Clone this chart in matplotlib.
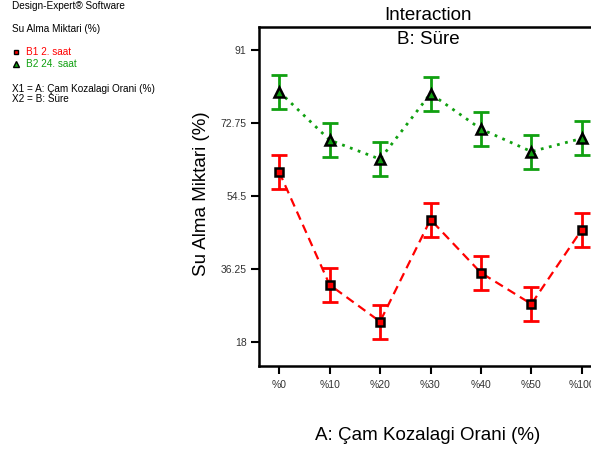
import numpy as np
import matplotlib
matplotlib.use('Agg')
import matplotlib.pyplot as plt
from matplotlib.lines import Line2D

plt.rcParams['font.family'] = ['Liberation Sans', 'DejaVu Sans']

categories = ['%0', '%10', '%20', '%30', '%40', '%50', '%100']
b1_values = [60.5, 32.3, 23.1, 48.6, 35.3, 27.5, 46.1]
b2_values = [80.6, 68.5, 63.7, 80.1, 71.25, 65.6, 68.9]
b1_err = [4.25, 4.25, 4.25, 4.25, 4.25, 4.25, 4.25]
b2_err = [4.25, 4.25, 4.25, 4.25, 4.25, 4.25, 4.25]
yticks = [18, 36.25, 54.5, 72.75, 91]
ytick_labels = ['18', '36.25', '54.5', '72.75', '91']

red = '#ff0000'
green = '#10a010'

fig = plt.figure(figsize=(5.91, 4.5), dpi=100)
# axes runs past the right edge of the figure, like the original export
ax = fig.add_axes([259 / 591, 1 - 366 / 450, 343 / 591, 339 / 450])

x = np.arange(len(categories))

ax.errorbar(x, b1_values, yerr=b1_err, fmt='none', ecolor=red,
            elinewidth=2, capsize=5.5, capthick=2, zorder=2)
ax.errorbar(x, b2_values, yerr=b2_err, fmt='none', ecolor=green,
            elinewidth=2, capsize=5.5, capthick=2, zorder=2)
ax.plot(x, b1_values, color=red, linestyle=(0, (4, 2.5)), lw=1.6, zorder=3)
ax.plot(x, b2_values, color=green, linestyle=(0, (1, 2)), lw=2, zorder=3)
ax.plot(x, b1_values, linestyle='none', marker='s', markersize=5.5,
        markerfacecolor=red, markeredgecolor='black', markeredgewidth=1.8, zorder=4)
ax.plot(x, b2_values, linestyle='none', marker='^', markersize=6.5,
        markerfacecolor=green, markeredgecolor='black', markeredgewidth=1.8, zorder=4)

ax.set_xlim(-0.4, len(categories) - 0.6)
ax.set_ylim(12, 96.75)
ax.set_xticks(x)
ax.set_xticklabels(categories, fontsize=7.5, color='#333333')
ax.set_yticks(yticks)
ax.set_yticklabels(ytick_labels, fontsize=7.5, color='#333333')
ax.tick_params(direction='out', length=6, width=1.5, pad=3)
ax.tick_params(axis='x', pad=4)
for s in ax.spines.values():
    s.set_linewidth(1.8)

cx = (259 + 598) / 2 / 591
fs_big = 13.5
fig.text(cx, 1 - 15 / 450, 'Interaction', ha='center', va='center', fontsize=fs_big)
fig.text(cx, 1 - 39 / 450, 'B: Süre', ha='center', va='center', fontsize=fs_big)
fig.text(202 / 591, 1 - 194 / 450, 'Su Alma Miktari (%)', rotation=90,
         ha='center', va='center', fontsize=fs_big)
fig.text(428 / 591, 1 - 436 / 450, 'A: Çam Kozalagi Orani (%)', ha='center',
         va='center', fontsize=fs_big)

# side notes
fs = 7.2
fig.text(12 / 591, 1 - 6 / 450, 'Design-Expert® Software', fontsize=fs, va='center')
fig.text(12 / 591, 1 - 29 / 450, 'Su Alma Miktari (%)', fontsize=fs, va='center')
fig.text(26 / 591, 1 - 52 / 450, 'B1 2. saat', fontsize=fs, va='center', color=red)
fig.text(26 / 591, 1 - 64 / 450, 'B2 24. saat', fontsize=fs, va='center', color=green)
fig.text(12 / 591, 1 - 89 / 450, 'X1 = A: Çam Kozalagi Orani (%)', fontsize=fs, va='center')
fig.text(12 / 591, 1 - 99 / 450, 'X2 = B: Süre', fontsize=fs, va='center')
fig.add_artist(Line2D([16 / 591], [1 - 52 / 450], marker='s', markersize=3.5,
                      markerfacecolor=red, markeredgecolor='black',
                      markeredgewidth=1, transform=fig.transFigure))
fig.add_artist(Line2D([16 / 591], [1 - 64 / 450], marker='^', markersize=4,
                      markerfacecolor=green, markeredgecolor='black',
                      markeredgewidth=1, transform=fig.transFigure))

plt.savefig('out.png', dpi=100)
